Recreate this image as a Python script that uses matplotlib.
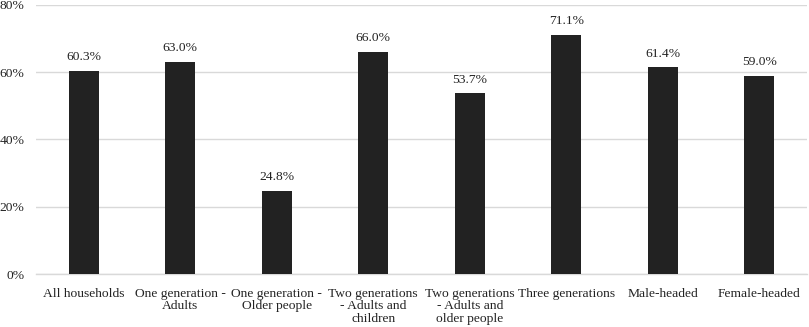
import matplotlib
matplotlib.use("Agg")
import matplotlib.pyplot as plt
from matplotlib.ticker import FuncFormatter

categories = [
    "All households",
    "One generation -\nAdults",
    "One generation -\nOlder people",
    "Two generations\n- Adults and\nchildren",
    "Two generations\n- Adults and\nolder people",
    "Three generations",
    "Male-headed",
    "Female-headed",
]
values = [60.3, 63.0, 24.8, 66.0, 53.7, 71.1, 61.4, 59.0]
y_ticks = [0, 20, 40, 60, 80]

plt.rcParams["font.family"] = ["Liberation Serif", "DejaVu Serif"]
fs = 9.7

fig = plt.figure(figsize=(8.09, 3.27), dpi=100)
ax = fig.add_axes([0.044, 0.162, 0.954, 0.823])

x = range(len(categories))
ax.bar(x, values, width=0.31, color="#222222", zorder=3)
for xi, v in zip(x, values):
    ax.text(xi, v + 2.3, f"{v:.1f}%", ha="center", va="bottom", fontsize=fs, color="#222222")

ax.set_xlim(-0.5, len(categories) - 0.5)
ax.set_ylim(0, 80)
ax.set_yticks(y_ticks)
ax.yaxis.set_major_formatter(FuncFormatter(lambda v, _: f"{v:.0f}%"))
ax.grid(axis="y", color="#d9d9d9", linewidth=1, zorder=0)
ax.set_xticks(list(x))
ax.set_xticklabels(categories, fontsize=fs, linespacing=1.05, va="top")
ax.tick_params(axis="both", length=0, labelsize=fs, colors="#222222")
ax.tick_params(axis="x", pad=10)
ax.tick_params(axis="y", pad=8)
for side in ["top", "right", "left"]:
    ax.spines[side].set_visible(False)
ax.spines["bottom"].set_color("#d9d9d9")
ax.spines["bottom"].set_linewidth(1)

fig.savefig("out.png", dpi=100)
